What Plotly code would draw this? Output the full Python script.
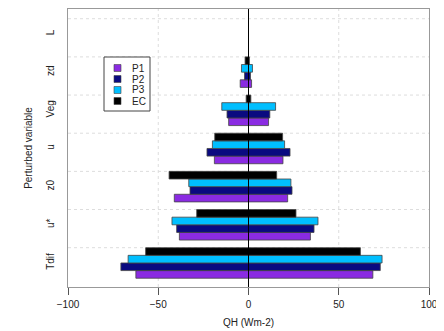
import plotly.graph_objects as go

categories = ["Tdif", "u*", "z0", "u", "Veg", "zd", "L"]
series = ["P1", "P2", "P3", "EC"]
colors = {"P1": "#8A2BE2", "P2": "#0A0A80", "P3": "#00BFFF", "EC": "#000000"}

# negative and positive sensitivity (QH, W m-2) per category
neg_P1 = [-62.4, -38.3, -41.1, -18.9, -11.0, -4.6, 0]
pos_P1 = [68.9, 34.3, 21.7, 19.1, 11.1, 1.7, 0]
neg_P2 = [-70.7, -39.8, -32.4, -23.0, -11.9, -2.2, 0]
pos_P2 = [73.0, 36.3, 24.1, 23.0, 11.8, 1.1, 0]
neg_P3 = [-66.7, -42.4, -33.1, -20.0, -14.8, -3.9, 0]
pos_P3 = [74.0, 38.5, 23.5, 20.0, 15.0, 2.2, 0]
neg_EC = [-57.0, -28.7, -44.0, -18.7, -1.3, -1.9, 0]
pos_EC = [62.0, 26.3, 15.6, 18.9, 1.3, 0.5, 0]

x_ticks = [-100, -50, 0, 50, 100]

data = {
    "P1": (neg_P1, pos_P1),
    "P2": (neg_P2, pos_P2),
    "P3": (neg_P3, pos_P3),
    "EC": (neg_EC, pos_EC),
}

fig = go.Figure()
for s in series:
    neg, pos = data[s]
    fig.add_trace(go.Bar(
        name=s, orientation="h", y=categories,
        x=[p - n for n, p in zip(neg, pos)], base=neg,
        marker=dict(color=colors[s], line=dict(color="#444444", width=0.8)),
        showlegend=False,
    ))

shapes = []
for xv in [-50, 50]:
    shapes.append(dict(type="line", xref="x", yref="paper", x0=xv, x1=xv, y0=0, y1=1,
                       line=dict(color="#dddddd", width=1, dash="dot"), layer="below"))
for i in range(len(categories)):
    shapes.append(dict(type="line", xref="paper", yref="y", x0=0, x1=1, y0=i + 0.4, y1=i + 0.4,
                       line=dict(color="#dddddd", width=1, dash="dot"), layer="below"))
shapes.append(dict(type="line", xref="x", yref="paper", x0=0, x1=0, y0=0, y1=1,
                   line=dict(color="black", width=1), layer="above"))

# custom legend (plot area in window: x 68..429 px, y 9..287 px)
W, H = 361.0, 278.0
def px(x):
    return (x - 68) / W
def py(y):
    return (287 - y) / H

annotations = []
shapes.append(dict(type="rect", xref="paper", yref="paper",
                   x0=px(104), x1=px(150), y0=py(111), y1=py(57),
                   line=dict(color="#444444", width=1), fillcolor="white", layer="above"))
for k, s in enumerate(series):
    yc = 68 + 11 * k
    shapes.append(dict(type="rect", xref="paper", yref="paper",
                       x0=px(114), x1=px(121), y0=py(yc + 3.5), y1=py(yc - 3.5),
                       line=dict(color="#444444", width=0.6), fillcolor=colors[s], layer="above"))
    annotations.append(dict(xref="paper", yref="paper", x=px(130), y=py(yc), text=s,
                            showarrow=False, xanchor="left", yanchor="middle",
                            font=dict(size=10, color="#222222")))

font = dict(family="Liberation Sans, Arial, sans-serif", size=10, color="#222222")

fig.update_layout(
    width=444, height=331,
    margin=dict(l=60, r=23, t=1, b=52),
    paper_bgcolor="white", plot_bgcolor="white",
    barmode="group", bargap=0.2, bargroupgap=0,
    font=font,
    shapes=shapes,
    annotations=annotations,
    showlegend=False,
    xaxis=dict(range=[-100, 100], tickvals=x_ticks, ticks="outside", ticklen=7,
               tickcolor="#555555", showgrid=False, zeroline=False, automargin=False,
               showline=True, linecolor="#999999", mirror=True, linewidth=1,
               ticklabelstandoff=1,
               title=dict(text="QH (Wm-2)", standoff=9, font=dict(size=10))),
    yaxis=dict(type="category", categoryorder="array", categoryarray=categories,
               range=[-0.63, 6.655], tickangle=-90, ticks="", showgrid=False,
               zeroline=False, showline=True, linecolor="#999999", mirror=True,
               linewidth=1, ticklabelstandoff=9, automargin=False,
               title=dict(text="Perturbed variable", standoff=10, font=dict(size=10))),
)

fig.write_html("out.html")
